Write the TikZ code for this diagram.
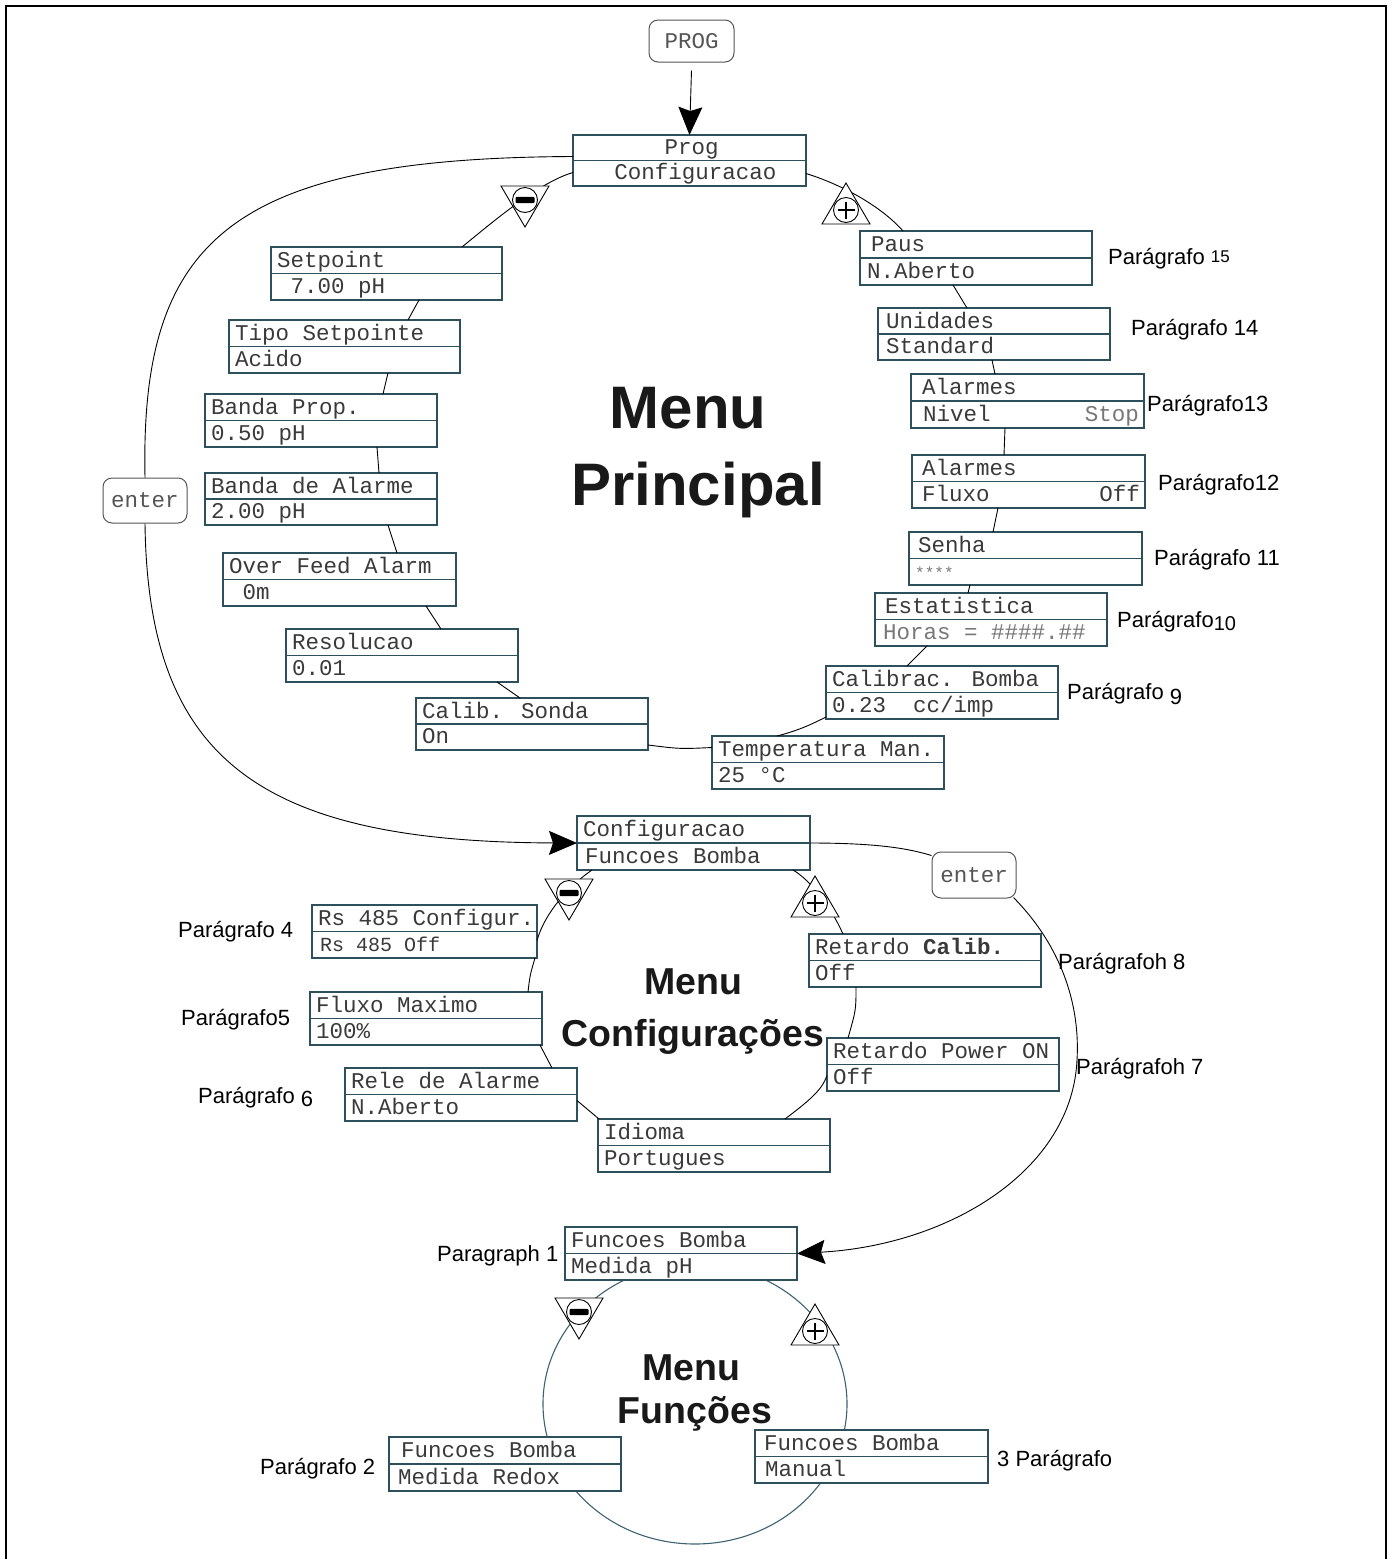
\documentclass[tikz,border=0pt]{standalone}
\usepackage{fontspec}
\setmainfont{Liberation Sans}
\newfontfamily\monofont{Liberation Mono}
\usetikzlibrary{calc,arrows.meta}
\definecolor{boxcol}{HTML}{2E4F5C}
\definecolor{txtcol}{HTML}{3A3A3A}
\definecolor{keycol}{HTML}{555555}
\definecolor{circcol}{HTML}{3D6272}
\definecolor{greytxt}{HTML}{777777}
\tikzset{
  lcdbox/.style={draw=boxcol, line width=1.8pt, fill=white, inner sep=0pt, outer sep=0pt, rectangle},
  lcddiv/.style={draw=boxcol, line width=1.4pt},
  lcdtxt/.style={font={\monofont\fontsize{22.5}{26}\selectfont}, text=txtcol, inner sep=0pt},
  keybox/.style={draw=keycol, line width=1pt, rounded corners=9pt, fill=white, inner sep=0pt,
     font={\monofont\fontsize{22.5}{26}\selectfont}, text=keycol},
  conn/.style={draw=black, line width=0.9pt},
  arr/.style={-{Stealth[length=28pt,width=24pt,inset=4pt]}},
  tri/.style={draw=black, line width=0.9pt, fill=white},
  signcirc/.style={circle, draw=black, line width=0.9pt, fill=white, minimum size=25pt, inner sep=0pt},
  para/.style={font={\fontsize{22}{26}\selectfont}, text=black, inner sep=0pt, anchor=base west},
  bigt/.style={font={\bfseries\fontsize{60}{66}\selectfont}, text=black!90, inner sep=0pt},
  midt/.style={font={\bfseries\fontsize{37.5}{42}\selectfont}, text=black!90, inner sep=0pt},
  funcirc/.style={draw=circcol, line width=1.1pt}
}
% name, x, y (north west), width, height, top text, bottom text
\newcommand\lcd[7]{%
  \node[lcdbox, minimum width=#4pt, minimum height=#5pt, anchor=north west] (#1) at (#2,#3) {};
  \draw[lcddiv] (#1.west) -- (#1.east);
  \node[lcdtxt, anchor=base west] (#1-t) at ([xshift=6pt,yshift=-20pt]#1.north west) {#6};
  \node[lcdtxt, anchor=base west] (#1-b) at ([xshift=6pt,yshift=7pt]#1.south west) {#7};
}
% minus sign: name, x, y (circle centre)
\newcommand\minussign[3]{%
  \draw[tri] ($(#2,#3)+(-24,-14)$) -- ($(#2,#3)+(24,-14)$) -- ($(#2,#3)+(0,27)$) -- cycle;
  \node[signcirc] (#1) at (#2,#3) {};
  \fill[black, rounded corners=1pt] ($(#1)+(-9.5,-3.2)$) rectangle ($(#1)+(9.5,3.2)$);
}
\newcommand\plussign[3]{%
  \draw[tri] ($(#2,#3)+(-24,14)$) -- ($(#2,#3)+(24,14)$) -- ($(#2,#3)+(0,-27)$) -- cycle;
  \node[signcirc] (#1) at (#2,#3) {};
  \draw[black, line width=1.4pt] ($(#1)+(-8.5,0)$) -- ($(#1)+(8.5,0)$);
  \draw[black, line width=1.4pt] ($(#1)+(0,-8.5)$) -- ($(#1)+(0,8.5)$);
}
\begin{document}
\begin{tikzpicture}[x=1pt,y=-1pt]
\useasboundingbox (0,0) rectangle (1392,1559);
% frame
\draw[line width=1.5pt] (6,1575) -- (6,6) -- (1386,6) -- (1386,1575);
% function circle
\draw[funcirc] (695,1404) ellipse [x radius=152, y radius=140];

% ---------- main menu ----------
\node[keybox, minimum width=85pt, minimum height=42pt] (progkey) at (691.5,41) {PROG};
\node[lcdbox, minimum width=233pt, minimum height=51pt, anchor=north west] (prog) at (573,135) {};
\draw[lcddiv] (prog.west) -- (prog.east);
\node[lcdtxt, anchor=base] (prog-t) at ([xshift=2pt,yshift=-19pt]prog.north) {Prog};
\node[lcdtxt, anchor=base] (prog-b) at ([xshift=6pt,yshift=7pt]prog.south) {Configuracao};

\lcd{setp}{271}{247}{231}{53}{Setpoint}{\ 7.00 pH}
\lcd{tipo}{229}{320}{231}{53}{Tipo Setpointe}{Acido}
\lcd{bprop}{205}{394}{232}{53}{Banda Prop.}{0.50 pH}
\lcd{balarm}{205}{473}{232}{52}{Banda de Alarme}{2.00 pH}
\lcd{over}{223}{553}{233}{53}{Over Feed Alarm}{\ 0m}
\lcd{resol}{286}{629}{232}{53}{Resolucao}{0.01}
\lcd{csonda}{416}{698}{232}{52}{Calib. Sonda}{On}
\lcd{temp}{712}{736}{232}{53}{Temperatura Man.}{25 °C}
\lcd{cbomba}{826}{666}{232}{53}{Calibrac. Bomba}{0.23\ \ cc/imp}
\lcd{estat}{875}{593}{232}{53}{\hspace{4pt}Estatistica}{\hspace{2pt}\textcolor{greytxt}{Horas = \#\#\#\#.\#\#}}
\lcd{senha}{909}{532}{233}{53}{\hspace{3pt}Senha}{{\fontsize{16}{18}\selectfont\textcolor{greytxt}{****}}}
\lcd{afluxo}{912}{455}{233}{53}{\hspace{4pt}Alarmes}{\hspace{4pt}Fluxo}
\node[lcdtxt, anchor=base east] (afluxo-r) at ([xshift=-5pt,yshift=7pt]afluxo.south east) {Off};
\lcd{anivel}{911}{374}{233}{54}{\hspace{5pt}Alarmes}{\hspace{6pt}Nivel}
\node[lcdtxt, anchor=base east] (anivel-r) at ([xshift=-5pt,yshift=7pt]anivel.south east) {\textcolor{greytxt}{Stop}};
\lcd{unid}{878}{308}{232}{52}{\hspace{2pt}Unidades}{\hspace{2pt}Standard}
\lcd{paus}{860}{231}{232}{54}{\hspace{5pt}Paus}{\hspace{1pt}N.Aberto}

\node[keybox, minimum width=84pt, minimum height=45pt] (enterL) at (145,500.5) {enter};

% main circle connectors
\draw[conn, arr] ([yshift=-8pt]progkey.south) -- (prog.north);
\draw[conn] ($(prog.east)+(0,13)$) .. controls (840,184) and (880,205) .. ($(paus.north west)+(43,0)$);
\draw[conn] ($(prog.west)+(0,12)$) .. controls (540,182) and (495,220) .. ($(setp.north west)+(191,0)$);
\draw[conn] ($(setp.south west)+(148,0)$) -- ($(tipo.north west)+(179,0)$);
\draw[conn] ($(tipo.south west)+(159,0)$) -- ($(bprop.north west)+(178,0)$);
\draw[conn] ($(bprop.south west)+(172,0)$) -- ($(balarm.north west)+(174,0)$);
\draw[conn] ($(balarm.south west)+(183,0)$) -- ($(over.north west)+(174,0)$);
\draw[conn] ($(over.south west)+(203,0)$) -- ($(resol.north west)+(155,0)$);
\draw[conn] ($(resol.south west)+(211,0)$) -- ($(csonda.north west)+(104,0)$);
\draw[conn] ($(csonda.east)+(0,21)$) .. controls (680,749) .. ($(temp.west)+(0,-15)$);
\draw[conn] ($(temp.north west)+(65,0)$) .. controls (800,730) and (812,724) .. ($(cbomba.south west)+(0,-2)$);
\draw[conn] ($(cbomba.north west)+(81,0)$) -- ($(estat.south west)+(52,0)$);
\draw[conn] ($(estat.north west)+(93,0)$) -- ($(senha.south west)+(61,0)$);
\draw[conn] ($(senha.north west)+(84,0)$) -- ($(afluxo.south west)+(86,0)$);
\draw[conn] ($(afluxo.north west)+(92,0)$) -- ($(anivel.south west)+(94,0)$);
\draw[conn] ($(anivel.north west)+(84,0)$) -- ($(unid.south west)+(114,0)$);
\draw[conn] ($(unid.north west)+(89,0)$) -- ($(paus.south west)+(93,0)$);

% ---------- configuration menu ----------
\lcd{cfg}{577}{816}{233}{54}{Configuracao}{\hspace{2pt}Funcoes Bomba}
\lcd{rcal}{809}{934}{232}{53}{Retardo \textbf{Calib.}}{Off}
\lcd{rpow}{827}{1038}{232}{53}{Retardo Power ON}{Off}
\lcd{idioma}{598}{1119}{232}{53}{Idioma}{Portugues}
\lcd{rele}{345}{1068}{232}{53}{Rele de Alarme}{N.Aberto}
\lcd{fluxo}{310}{992}{232}{53}{Fluxo Maximo}{100\%}
\lcd{rs}{312}{905}{225}{53}{Rs 485 Configur.}{\hspace{2pt}{\fontsize{20}{24}\selectfont Rs 485 Off}}
\node[keybox, minimum width=84pt, minimum height=46pt] (enterR) at (974,875) {enter};

\draw[conn] ($(prog.west)+(0,-4)$) .. controls (230,158) and (140,240) .. (enterL.north);
\draw[conn, arr] (enterL.south) .. controls (148,760) and (260,842) .. (cfg.west);

\draw[conn] ($(cfg.south west)+(15,0)$) .. controls (570,885) and (545,912) .. ($(rs.east)+(0,9)$);
\draw[conn] ($(rs.south east)+(-2,0)$) .. controls (530,975) .. ($(fluxo.north west)+(218,0)$);
\draw[conn] ($(fluxo.south west)+(230,0)$) -- ($(rele.north west)+(207,0)$);
\draw[conn] ($(rele.east)+(0,6)$) -- ($(idioma.north west)+(1,0)$);
\draw[conn] ($(idioma.north west)+(187,0)$) .. controls (810,1100) and (822,1090) .. ($(rpow.west)+(0,11)$);
\draw[conn] ($(rpow.north west)+(21,0)$) .. controls (856,1010) .. ($(rcal.south west)+(47,0)$);
\draw[conn] ($(rcal.north west)+(34,0)$) .. controls (830,905) and (810,880) .. ($(cfg.south west)+(216,0)$);

\draw[conn] (cfg.east) .. controls (880,843) and (910,849) .. ($(enterR.north west)+(0,4)$);

% ---------- function menu ----------
\lcd{fph}{565}{1227}{232}{53}{Funcoes Bomba}{Medida pH}
\lcd{fredox}{389}{1437}{232}{54}{\hspace{6pt}Funcoes Bomba}{\hspace{3pt}Medida Redox}
\lcd{fman}{755}{1430}{233}{53}{\hspace{3pt}Funcoes Bomba}{\hspace{4pt}Manual}

\draw[conn, arr] ($(enterR.south east)+(-3,-1)$) .. controls (1065,950) and (1080,1010) .. (1077,1060)
   .. controls (1072,1170) and (950,1245) .. (fph.east);

% signs
\minussign{m1}{525}{200}
\plussign{p1}{846}{210}
\minussign{m2}{569}{893}
\plussign{p2}{815}{903}
\minussign{m3}{579}{1312}
\plussign{p3}{815}{1331}

% titles
\node[bigt] (t1) at (688,408) {Menu};
\node[bigt, anchor=base] (t2) at (698,505) {Principal};
\node[midt] (t3) at (693,982) {Menu};
\node[midt, anchor=base] (t4) at (693,1046) {Configurações};
\node[midt] (t5) at (691,1368) {Menu};
\node[midt, anchor=base] (t6) at (695,1423) {Funções};

% paragraph labels
\node[para] (l15) at (1108,264) {Parágrafo \raisebox{2pt}{\fontsize{17}{17}\selectfont 15}};
\node[para] (l14) at (1131,335) {Parágrafo 14};
\node[para] (l13) at (1147,411) {Parágrafo13};
\node[para] (l12) at (1158,490) {Parágrafo12};
\node[para] (l11) at (1154,565) {Parágrafo 11};
\node[para] (l10) at (1117,627) {Parágrafo\raisebox{-3pt}{\fontsize{20}{20}\selectfont 10}};
\node[para] (l9) at (1067,699) {Parágrafo \raisebox{-5pt}{9}};
\node[para] (l4) at (178,937) {Parágrafo 4};
\node[para] (l5) at (181,1025) {Parágrafo5};
\node[para] (l6) at (198,1103) {Parágrafo \raisebox{-3pt}{6}};
\node[para] (l8) at (1058,969) {Parágrafoh 8};
\node[para] (l7) at (1076,1074) {Parágrafoh 7};
\node[para] (l1) at (437,1261) {Paragraph 1};
\node[para] (l2) at (260,1474) {Parágrafo 2};
\node[para] (l3) at (997,1466) {3 Parágrafo};
\end{tikzpicture}
\end{document}
